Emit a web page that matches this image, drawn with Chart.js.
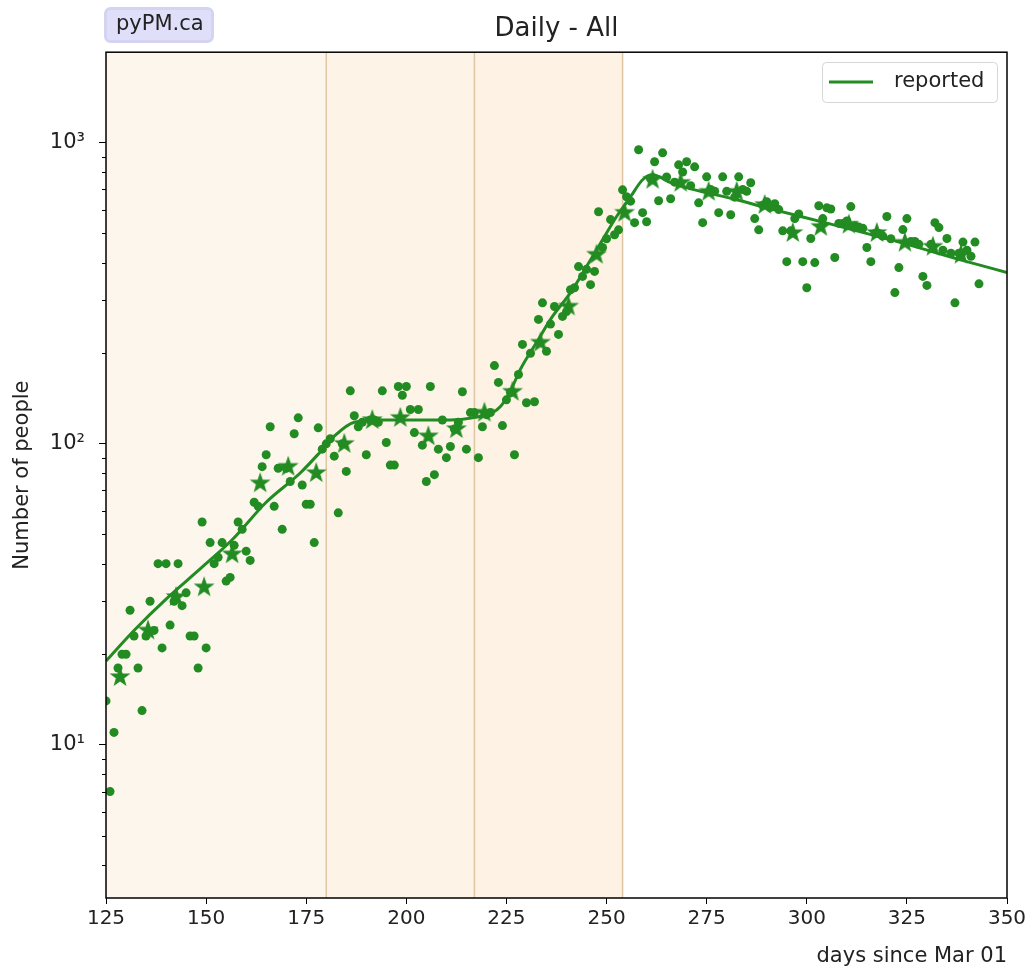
<!DOCTYPE html>
<html>
<head>
<meta charset="utf-8">
<script src="https://cdn.jsdelivr.net/npm/chart.js@4.4.1/dist/chart.umd.min.js"></script>
<style>
  html, body { margin: 0; background: #fff; }
  canvas { display: block; }
</style>
</head>
<body>
<canvas id="chart" width="1031" height="969"></canvas>
<script>
// daily reported counts, first value is day 125
const firstDay = 125;
const dailyReported = [
  14, 7, 11, 18, 20, 20, 28, 23, 18, 13,
  23, 30, 24, 40, 21, 40, 25, 30, 40, 29,
  32, 23, 23, 18, 55, 21, 47, 40, 42, 47,
  35, 36, 46, 55, 52, 44, 41, 64, 62, 84,
  92, 114, 62, 83, 52, 83, 75, 108, 122, 73,
  63, 63, 47, 113, 96, 100, 104, 91, 59, 100,
  81, 150, 124, 114, 118, 92, 120, 120, 118, 150,
  101, 85, 85, 155, 145, 155, 130, 109, 130, 99,
  75, 155, 79, 96, 120, 90, 98, 112, 118, 149,
  96, 127, 127, 90, 114, 125, 127, 182, 160, 115,
  140, 148, 92, 170, 214, 137, 200, 138, 259, 294,
  203, 250, 286, 231, 265, 275, 325, 330, 388, 360,
  380, 338, 374, 590, 449, 480, 556, 495, 514, 698,
  662, 640, 543, 948, 586, 547, 760, 865, 642, 926,
  770, 652, 740, 845, 800, 865, 720, 832, 632, 543,
  771, 700, 690, 586, 771, 690, 577, 660, 771, 700,
  690, 737, 560, 514, 620, 637, 610, 628, 600, 510,
  403, 510, 560, 580, 403, 330, 481, 400, 618, 560,
  608, 603, 416, 540, 540, 550, 614, 530, 525, 520,
  449, 403, 500, 500, 490, 569, 480, 318, 385, 515,
  560, 470, 470, 460, 360, 336, 460, 543, 523, 440,
  481, 430, 294, 430, 468, 440, 420, 468, 340
];

// weekly averages (stars)
const weekDays = [128.5, 135.5, 142.5, 149.5, 156.5, 163.5, 170.5, 177.5, 184.5, 191.5,
  198.5, 205.5, 212.5, 219.5, 226.5, 233.5, 240.5, 247.5, 254.5, 261.5,
  268.5, 275.5, 282.5, 289.5, 296.5, 303.5, 310.5, 317.5, 324.5, 331.5, 338.5];
const weekAverages = [16.8, 24, 31, 33.4, 43, 74, 84, 80, 100, 120,
  122, 106, 112, 127, 149, 217, 286, 425, 586, 754,
  737, 688, 688, 622, 502, 526, 535, 502, 466, 452, 425];

// model curve
const modelDays = [125, 132, 140, 148.5, 156.5, 165, 173.5, 178.5, 182, 187, 194, 211,
  216.5, 221.5, 223.5, 226, 228.5, 232.5, 236.5, 241, 245, 249, 252.5, 256, 259,
  261.5, 266, 270, 274, 282.5, 290, 306.5, 323.5, 340, 350];
const modelValues = [19, 24, 30.5, 38.4, 48, 64, 80, 94, 106, 118, 120, 120,
  122, 127, 133, 150, 177, 217, 265, 318, 388, 476, 569, 662, 754,
  783, 737, 710, 688, 647, 608, 535, 466, 403, 371];

const periodBreaks = [125, 180, 217, 254];
const periodColors = ['#fdf6ec', '#fdf3e6', '#fdf2e3'];
const xTicks = [125, 150, 175, 200, 225, 250, 275, 300, 325, 350];
const yMajorTicks = [10, 100, 1000];
const yTickLabels = ['10\u00b9', '10\u00b2', '10\u00b3'];
const yMinorTicks = [4, 5, 6, 7, 8, 9, 20, 30, 40, 50, 60, 70, 80, 90, 200, 300, 400, 500, 600, 700, 800, 900];

const green = '#228b22';
const textColor = '#222';
const fontFamily = "'DejaVu Sans', sans-serif";

function makeStar(r, color) {
  const c = document.createElement('canvas');
  const size = Math.ceil(r * 2 + 2);
  c.width = c.height = size;
  const g = c.getContext('2d');
  g.fillStyle = color;
  g.beginPath();
  for (let i = 0; i < 10; i++) {
    const rad = i % 2 ? r * 0.4 : r;
    const a = -Math.PI / 2 + i * Math.PI / 5;
    g.lineTo(size / 2 + rad * Math.cos(a), size / 2 + rad * Math.sin(a));
  }
  g.closePath();
  g.fill();
  return c;
}

const dotPoints = dailyReported.map((v, i) => ({ x: firstDay + i, y: v }));
const starPoints = weekDays.map((d, i) => ({ x: d, y: weekAverages[i] }));
const modelPoints = modelDays.map((d, i) => ({ x: d, y: modelValues[i] }));

// shaded periods, frame, minor ticks, legend and badge
const decorations = {
  id: 'decorations',
  beforeDraw(chart) {
    const { ctx, chartArea: a, scales: { x } } = chart;
    ctx.save();
    ctx.fillStyle = '#fff';
    ctx.fillRect(0, 0, chart.width, chart.height);
    for (let i = 0; i < periodBreaks.length - 1; i++) {
      const x0 = x.getPixelForValue(periodBreaks[i]);
      const x1 = x.getPixelForValue(periodBreaks[i + 1]);
      ctx.fillStyle = periodColors[i];
      ctx.fillRect(x0, a.top, x1 - x0, a.bottom - a.top);
    }
    ctx.strokeStyle = '#dfc6a5';
    ctx.lineWidth = 1.5;
    periodBreaks.slice(1).forEach(d => {
      const px = x.getPixelForValue(d);
      ctx.beginPath();
      ctx.moveTo(px, a.top);
      ctx.lineTo(px, a.bottom);
      ctx.stroke();
    });
    ctx.restore();
  },
  afterDraw(chart) {
    const { ctx, chartArea: a, scales: { y } } = chart;
    ctx.save();
    // frame
    ctx.strokeStyle = '#000';
    ctx.lineWidth = 1.5;
    ctx.strokeRect(a.left, a.top, a.right - a.left, a.bottom - a.top);
    // minor ticks on the log axis
    ctx.lineWidth = 1;
    yMinorTicks.forEach(v => {
      const py = Math.round(y.getPixelForValue(v)) + 0.5;
      ctx.beginPath();
      ctx.moveTo(a.left - 4, py);
      ctx.lineTo(a.left, py);
      ctx.stroke();
    });
    // legend
    const lx = 822, ly = 62, lw = 175, lh = 40;
    ctx.fillStyle = 'rgba(255,255,255,0.85)';
    ctx.strokeStyle = '#d6d6d6';
    ctx.lineWidth = 1;
    ctx.beginPath();
    ctx.roundRect(lx + 0.5, ly + 0.5, lw, lh, 4);
    ctx.fill();
    ctx.stroke();
    ctx.strokeStyle = green;
    ctx.lineWidth = 3;
    ctx.beginPath();
    ctx.moveTo(lx + 7, ly + 20);
    ctx.lineTo(lx + 51, ly + 20);
    ctx.stroke();
    ctx.fillStyle = textColor;
    ctx.font = '21px ' + fontFamily;
    ctx.textBaseline = 'middle';
    ctx.fillText(chart.data.datasets[2].label, lx + 72, ly + 20);
    // pyPM.ca badge
    ctx.fillStyle = '#dfdff9';
    ctx.strokeStyle = '#d4d4f2';
    ctx.beginPath();
    ctx.roundRect(105.5, 8.5, 107, 33, 5);
    ctx.fill();
    ctx.stroke();
    ctx.fillStyle = textColor;
    ctx.font = '21px ' + fontFamily;
    ctx.fillText('pyPM.ca', 116, 25);
    ctx.restore();
  }
};

new Chart(document.getElementById('chart'), {
  type: 'scatter',
  data: {
    datasets: [
      {
        label: 'daily',
        data: dotPoints,
        pointRadius: 4.5,
        pointBackgroundColor: green,
        pointBorderWidth: 0,
        showLine: false
      },
      {
        label: 'weekly',
        data: starPoints,
        pointStyle: makeStar(11, green),
        pointRadius: 11,
        showLine: false
      },
      {
        label: 'reported',
        data: modelPoints,
        showLine: true,
        borderColor: green,
        borderWidth: 3,
        pointRadius: 0,
        cubicInterpolationMode: 'monotone',
        fill: false
      }
    ]
  },
  options: {
    responsive: false,
    animation: false,
    devicePixelRatio: 1,
    layout: { padding: { left: 0, right: 24, top: 0, bottom: 0 } },
    plugins: {
      legend: { display: false },
      tooltip: { enabled: false },
      title: {
        display: true,
        text: 'Daily - All',
        fullSize: false,
        color: textColor,
        font: { family: fontFamily, size: 26, weight: 'normal' },
        padding: { top: 14, bottom: 7 }
      }
    },
    scales: {
      x: {
        type: 'linear',
        min: 125,
        max: 350,
        afterFit(scale) { scale.height = 71; },
        afterBuildTicks(scale) { scale.ticks = xTicks.map(v => ({ value: v })); },
        grid: { drawOnChartArea: false, drawTicks: true, tickLength: 6, tickColor: '#000' },
        border: { display: false },
        ticks: {
          color: textColor,
          padding: 3,
          maxRotation: 0,
          font: { family: fontFamily, size: 20 }
        },
        title: {
          display: true,
          text: 'days since Mar 01',
          align: 'end',
          color: textColor,
          font: { family: fontFamily, size: 21 },
          padding: { top: 0, bottom: 0 }
        }
      },
      y: {
        type: 'logarithmic',
        min: 3.1,
        max: 2000,
        afterFit(scale) { scale.width = 106; },
        afterBuildTicks(scale) { scale.ticks = yMajorTicks.map(v => ({ value: v })); },
        grid: { drawOnChartArea: false, drawTicks: true, tickLength: 7, tickColor: '#000' },
        border: { display: false },
        ticks: {
          color: textColor,
          padding: 14,
          font: { family: fontFamily, size: 21 },
          callback: (v, i) => yTickLabels[i]
        },
        title: {
          display: true,
          text: 'Number of people',
          color: textColor,
          font: { family: fontFamily, size: 21 },
          padding: { top: 10, bottom: 0 }
        }
      }
    }
  },
  plugins: [decorations]
});
</script>
</body>
</html>
